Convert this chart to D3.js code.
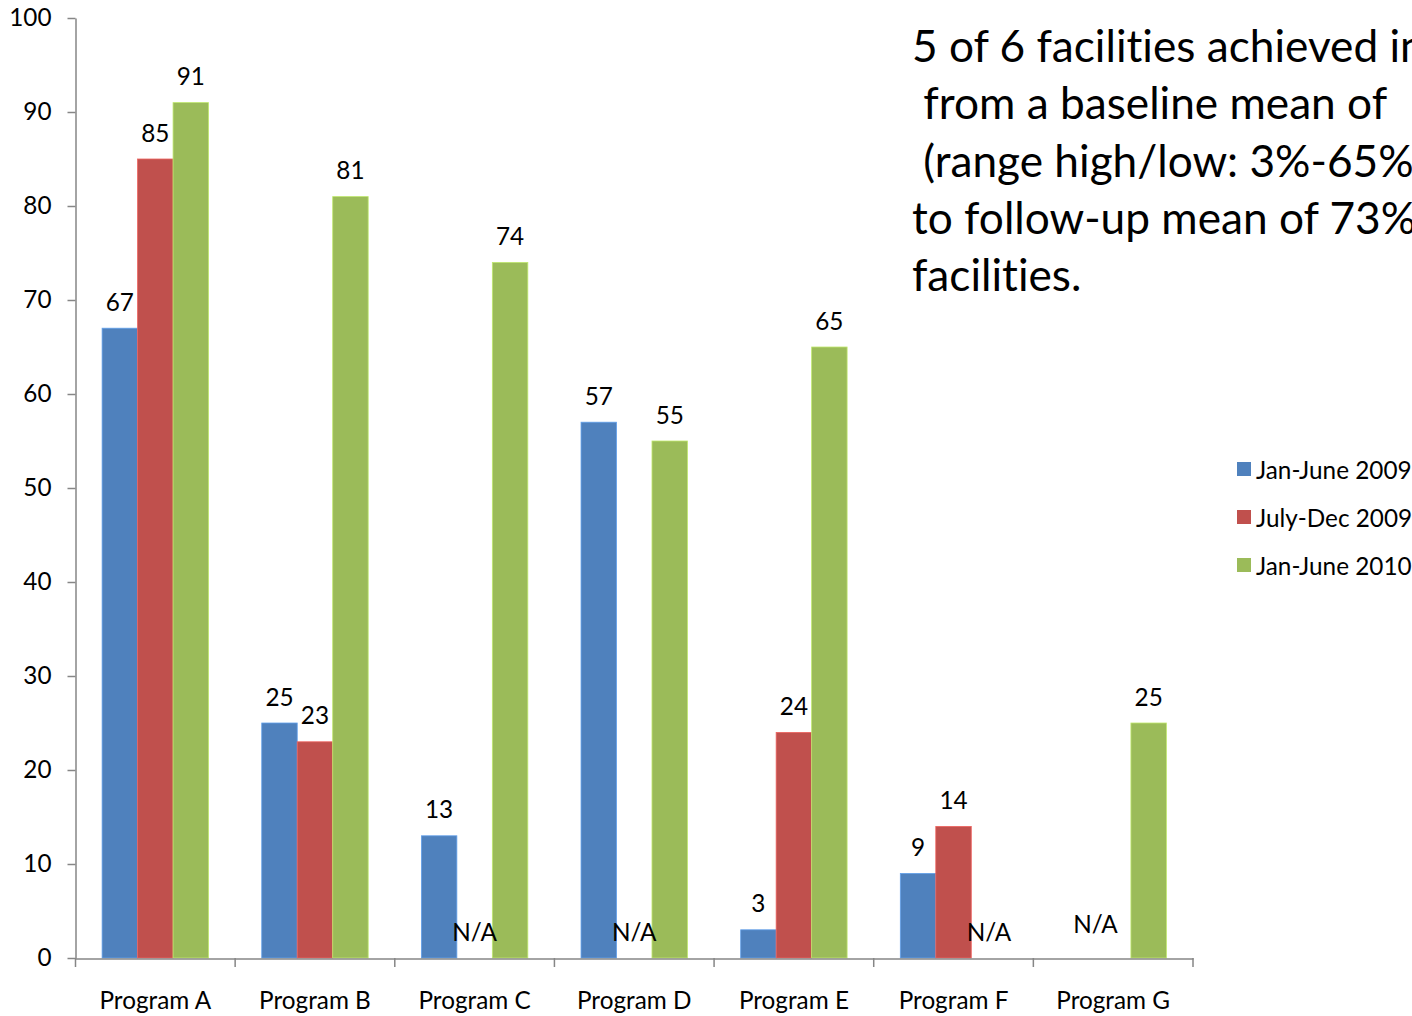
<!DOCTYPE html>
<html>
<head>
<meta charset="utf-8">
<script src="https://cdn.jsdelivr.net/npm/d3@7/dist/d3.min.js"></script>
<style>
  html, body { margin: 0; padding: 0; background: #fff; overflow: hidden; }
  svg { display: block; font-family: Lato, "Open Sans", sans-serif; font-variant-ligatures: none; }
  svg text { font-variant-ligatures: none; }
</style>
</head>
<body>
<svg id="chart" width="1412" height="1016"></svg>
<script>
// Programs on the x axis
const programs = ["Program A", "Program B", "Program C", "Program D", "Program E", "Program F", "Program G"];
// Reporting periods (series)
const periods = ["Jan-June 2009", "July-Dec 2009", "Jan-June 2010"];
// Values per period, null where no data was reported
const janJune2009 = [67, 25, 13, 57, 3, 9, null];
const julyDec2009 = [85, 23, null, null, 24, 14, null];
const janJune2010 = [91, 81, 74, 55, 65, null, 25];
const seriesValues = [janJune2009, julyDec2009, janJune2010];
// Series colours
const periodColors = ["#4F81BD", "#C0504D", "#9BBB59"];
// Y axis ticks
const yTicks = [0, 10, 20, 30, 40, 50, 60, 70, 80, 90, 100];
// Missing-data notes: the program and the period slots they cover
const naNotes = [
  { program: "Program C", periods: ["July-Dec 2009"] },
  { program: "Program D", periods: ["July-Dec 2009"] },
  { program: "Program F", periods: ["Jan-June 2010"] },
  { program: "Program G", periods: ["Jan-June 2009", "July-Dec 2009"] }
];
// Summary text (runs past the right edge of the page)
const summaryLines = [
  "5 of 6 facilities achieved in",
  " from a baseline mean of",
  " (range high/low: 3%-65%)",
  "to follow-up mean of 73%",
  "facilities."
];

const svg = d3.select("#chart");
const axisColor = "#868686";
const labelSize = 24.3;

const x = d3.scaleBand().domain(programs).range([75.5, 1193]).paddingInner(0).paddingOuter(0);
const xInner = d3.scaleBand().domain(periods).range([0, x.bandwidth()]).paddingInner(0).paddingOuter(0.75);
const y = d3.scaleLinear().domain([0, 100]).range([958, 18]);

// Bars
const rows = [];
periods.forEach((p, si) => {
  programs.forEach((prog, ci) => {
    const v = seriesValues[si][ci];
    if (v !== null) rows.push({ period: p, program: prog, value: v, color: periodColors[si] });
  });
});

svg.append("g").selectAll("rect").data(rows).join("rect")
  .attr("x", d => x(d.program) + xInner(d.period))
  .attr("y", d => y(d.value))
  .attr("width", xInner.bandwidth())
  .attr("height", d => y(0) - y(d.value))
  .attr("fill", d => d.color)
  .attr("stroke", d => d3.color(d.color).brighter(0.6))
  .attr("stroke-width", 0.8);

// Value labels
svg.append("g").selectAll("text").data(rows).join("text")
  .attr("x", d => x(d.program) + xInner(d.period) + xInner.bandwidth() / 2)
  .attr("y", d => y(d.value) - 27)
  .attr("text-anchor", "middle")
  .attr("dominant-baseline", "central")
  .attr("font-size", labelSize)
  .attr("fill", "#000")
  .text(d => d.value);

// N/A labels
svg.append("g").selectAll("text").data(naNotes).join("text")
  .attr("x", d => x(d.program) + d3.mean(d.periods, p => xInner(p) + xInner.bandwidth() / 2))
  .attr("y", d => d.periods.length > 1 ? y(0) - 35 : y(0) - 27)
  .attr("text-anchor", "middle")
  .attr("dominant-baseline", "central")
  .attr("font-size", labelSize)
  .attr("fill", "#000")
  .text("N/A");

// Y axis
const yAxis = svg.append("g").attr("transform", "translate(75.5,0)")
  .call(d3.axisLeft(y).tickValues(yTicks).tickSize(8).tickSizeOuter(0).tickPadding(16));
yAxis.select(".domain").attr("stroke", axisColor).attr("stroke-width", 1.5);
yAxis.selectAll(".tick line").attr("stroke", axisColor).attr("stroke-width", 1.5);
yAxis.selectAll(".tick text").attr("font-size", labelSize).attr("font-family", "Lato, sans-serif").attr("fill", "#000");

// X axis
const xAxis = svg.append("g").attr("transform", "translate(0,958.5)")
  .call(d3.axisBottom(x).tickSize(0).tickSizeOuter(0).tickPadding(33));
xAxis.select(".domain").attr("stroke", axisColor).attr("stroke-width", 1.5);
xAxis.selectAll(".tick text").attr("font-size", labelSize).attr("font-family", "Lato, sans-serif").attr("fill", "#000");
// boundary ticks between programs
const bounds = programs.map(p => x(p)).concat([x.range()[1]]);
svg.append("g").selectAll("line").data(bounds).join("line")
  .attr("x1", d => d).attr("x2", d => d)
  .attr("y1", 958).attr("y2", 967)
  .attr("stroke", axisColor).attr("stroke-width", 1.5);

// Legend
const legend = svg.append("g").attr("transform", "translate(1237,469)");
const lg = legend.selectAll("g").data(periods).join("g")
  .attr("transform", (d, i) => `translate(0,${i * 48})`);
lg.append("rect").attr("x", 0).attr("y", -7).attr("width", 14).attr("height", 14)
  .attr("fill", (d, i) => periodColors[i]);
lg.append("text").attr("x", 19).attr("y", 0).attr("dominant-baseline", "central")
  .attr("font-size", labelSize).attr("fill", "#000").text(d => d);

// Summary text block
svg.append("g").selectAll("text").data(summaryLines).join("text")
  .attr("x", 912)
  .attr("y", (d, i) => 44.5 + i * 57.3)
  .attr("dominant-baseline", "central")
  .attr("font-size", 44.2)
  .attr("xml:space", "preserve")
  .style("white-space", "pre")
  .attr("fill", "#000")
  .text(d => d);
</script>
</body>
</html>
